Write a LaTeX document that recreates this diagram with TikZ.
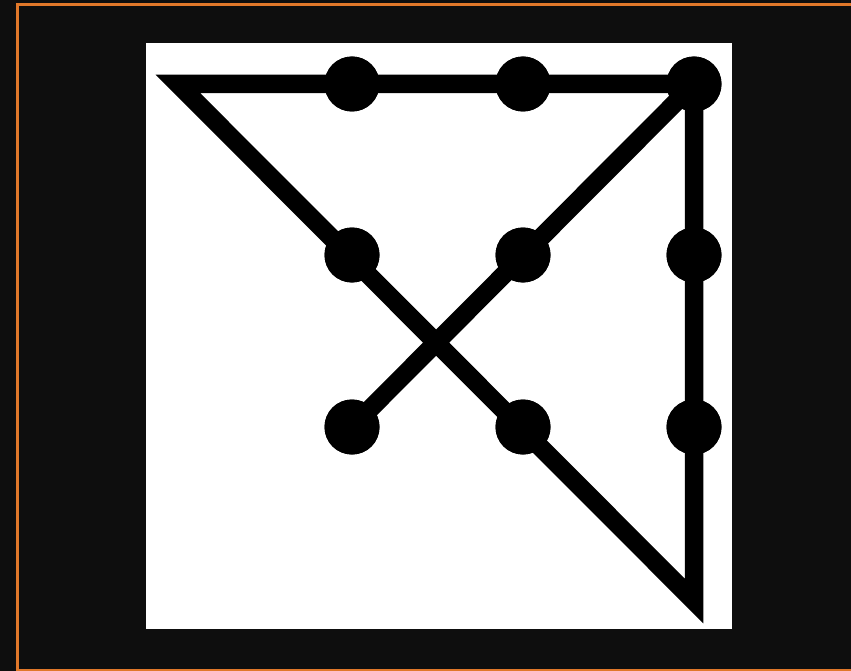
\documentclass[tikz,border=0pt]{standalone}
\usepackage{tikz}
\usetikzlibrary{positioning}

\definecolor{panelbg}{HTML}{0E0E0E}
\definecolor{frameorange}{HTML}{E0782A}

\tikzset{
  dot/.style={circle, fill=black, inner sep=0pt, minimum size=55pt},
  trail/.style={line width=18.5pt, line join=miter, draw=black}
}

\begin{document}
\begin{tikzpicture}[x=1pt, y=-1pt]
    % Page and frame
    \useasboundingbox (0,0) rectangle (851,671);
    \fill[panelbg] (0,0) rectangle (851,671);
    \draw[frameorange, line width=3pt] (17.5,4.5) rectangle (870,670.5);

    % White board
    \fill[white] (146,43) rectangle (732,629);

    % Nine dots (row, column)
    \node[dot] (d11) at (352,84) {};
    \node[dot] (d12) at (523,84) {};
    \node[dot] (d13) at (694,84) {};
    \node[dot] (d21) at (352,255) {};
    \node[dot] (d22) at (523,255) {};
    \node[dot] (d23) at (694,255) {};
    \node[dot] (d31) at (352,427) {};
    \node[dot] (d32) at (523,427) {};
    \node[dot] (d33) at (694,427) {};

    % Turning points outside the grid
    \coordinate (apex) at (178,84);
    \coordinate (tip) at (694,601);

    % Four straight strokes
    \draw[trail] (d31.center) -- (d13.center) -- (tip) -- (apex) -- (d13.center);

    % Dots on top of the strokes
    \foreach \d in {d11,d12,d13,d21,d22,d23,d31,d32,d33}
      \fill (\d) circle (27.5pt);
\end{tikzpicture}
\end{document}
